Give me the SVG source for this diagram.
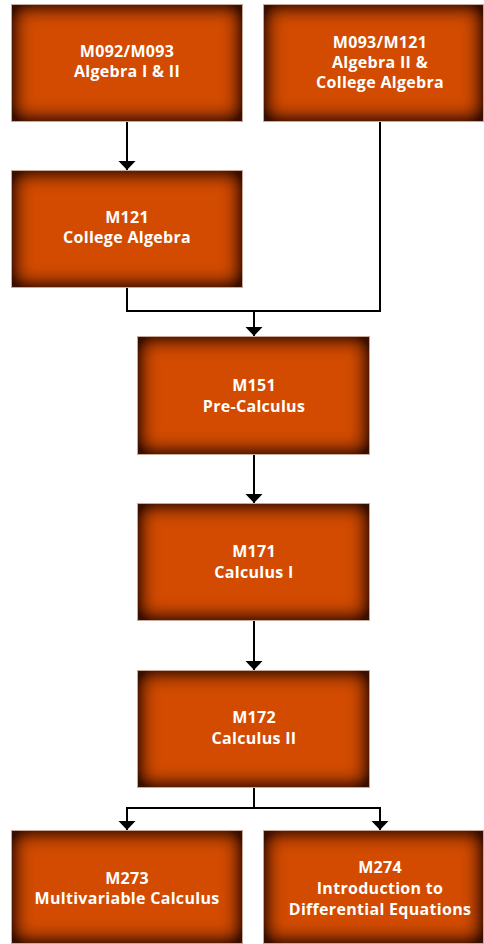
<svg xmlns="http://www.w3.org/2000/svg" width="484" height="944" viewBox="0 0 484 944">
<style>
.box{fill:#d24b00;filter:url(#inset)}
.edge{fill:none;stroke:#c9aa9a;stroke-width:1}
.lbl{font-family:"Open Sans","Liberation Sans",sans-serif;font-weight:bold;font-size:16px;fill:#ffffff;text-anchor:middle;letter-spacing:0.3px}
.conn{fill:none;stroke:#000;stroke-width:2}
</style>
<defs>
<filter id="inset" x="-15%" y="-15%" width="130%" height="130%" color-interpolation-filters="sRGB">
<feComponentTransfer in="SourceAlpha" result="inv"><feFuncA type="table" tableValues="1 0"/></feComponentTransfer>
<feGaussianBlur in="inv" stdDeviation="10" result="blur0"/>
<feComponentTransfer in="blur0" result="blur"><feFuncA type="linear" slope="1.7" intercept="0"/></feComponentTransfer>
<feFlood flood-color="#3a0f00" flood-opacity="1"/>
<feComposite in2="blur" operator="in" result="shadow"/>
<feComposite in="shadow" in2="SourceAlpha" operator="in" result="inner"/>
<feMerge><feMergeNode in="SourceGraphic"/><feMergeNode in="inner"/></feMerge>
</filter>
<marker id="arr" markerUnits="userSpaceOnUse" markerWidth="10" markerHeight="18" refX="9" refY="8.5" orient="auto" viewBox="0 0 10 18">
<path d="M0 0 L9 8.5 L0 17 z" fill="#000"/>
</marker>
</defs>
<g id="connectors">
<path class="conn" d="M127 121 V170" marker-end="url(#arr)"/>
<path class="conn" d="M127 287 V311 H380 V121"/>
<path class="conn" d="M254 311 V336" marker-end="url(#arr)"/>
<path class="conn" d="M254 454 V503" marker-end="url(#arr)"/>
<path class="conn" d="M254 620 V670" marker-end="url(#arr)"/>
<path class="conn" d="M254 787 V808"/>
<path class="conn" d="M254 808 H127 V830" marker-end="url(#arr)"/>
<path class="conn" d="M254 808 H380 V830" marker-end="url(#arr)"/>
</g>
<g id="m092">
<rect class="box" x="12" y="5" width="230" height="116"/>
<rect class="edge" x="11.5" y="4.5" width="231" height="117"/>
<text class="lbl" x="127" y="57">M092/M093</text>
<text class="lbl" x="127" y="77">Algebra I &amp; II</text>
</g>
<g id="m093">
<rect class="box" x="264" y="5" width="219" height="116"/>
<rect class="edge" x="263.5" y="4.5" width="220" height="117"/>
<text class="lbl" x="380" y="48">M093/M121</text>
<text class="lbl" x="380" y="68">Algebra II &amp;</text>
<text class="lbl" x="380" y="88">College Algebra</text>
</g>
<g id="m121">
<rect class="box" x="12" y="171" width="230" height="116"/>
<rect class="edge" x="11.5" y="170.5" width="231" height="117"/>
<text class="lbl" x="127" y="223">M121</text>
<text class="lbl" x="127" y="243">College Algebra</text>
</g>
<g id="m151">
<rect class="box" x="138" y="337" width="231" height="117"/>
<rect class="edge" x="137.5" y="336.5" width="232" height="118"/>
<text class="lbl" x="254" y="391">M151</text>
<text class="lbl" x="254" y="412">Pre-Calculus</text>
</g>
<g id="m171">
<rect class="box" x="138" y="504" width="231" height="116"/>
<rect class="edge" x="137.5" y="503.5" width="232" height="117"/>
<text class="lbl" x="254" y="557">M171</text>
<text class="lbl" x="254" y="578">Calculus I</text>
</g>
<g id="m172">
<rect class="box" x="138" y="671" width="231" height="116"/>
<rect class="edge" x="137.5" y="670.5" width="232" height="117"/>
<text class="lbl" x="254" y="723">M172</text>
<text class="lbl" x="254" y="744">Calculus II</text>
</g>
<g id="m273">
<rect class="box" x="12" y="831" width="230" height="112"/>
<rect class="edge" x="11.5" y="830.5" width="231" height="113"/>
<text class="lbl" x="127" y="884">M273</text>
<text class="lbl" x="127" y="904">Multivariable Calculus</text>
</g>
<g id="m274">
<rect class="box" x="264" y="831" width="219" height="112"/>
<rect class="edge" x="263.5" y="830.5" width="220" height="113"/>
<text class="lbl" x="380" y="873">M274</text>
<text class="lbl" x="380" y="894">Introduction to</text>
<text class="lbl" x="380" y="915">Differential Equations</text>
</g>
</svg>
